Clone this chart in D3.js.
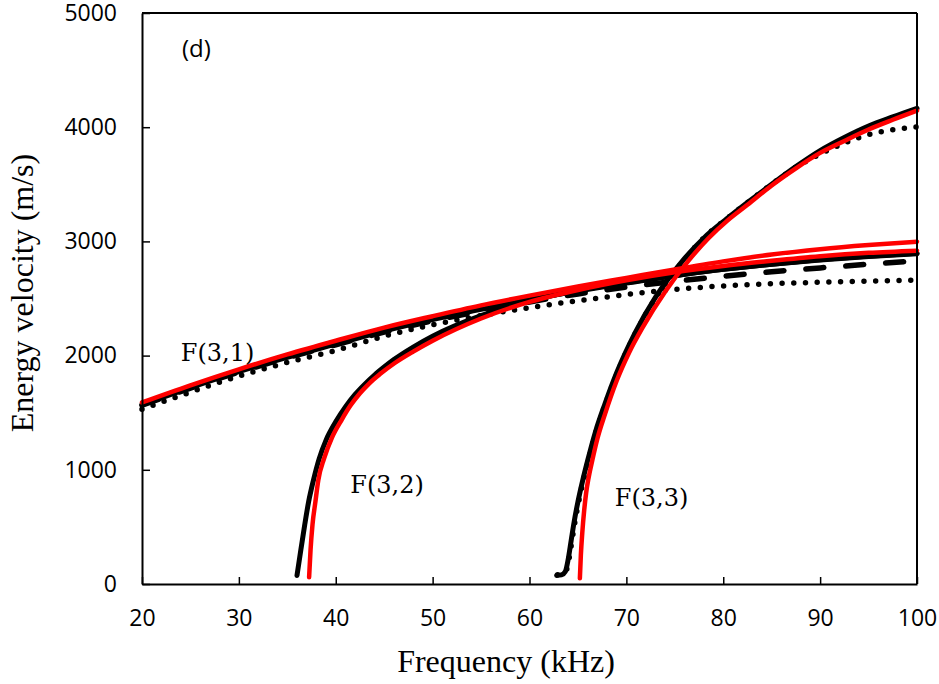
<!DOCTYPE html>
<html>
<head>
<meta charset="utf-8">
<script src="https://cdn.jsdelivr.net/npm/d3@7"></script>
<style>
  body { margin: 0; background: #fff; }
  svg { display: block; }
</style>
</head>
<body>
<svg id="chart" width="939" height="684"></svg>
<script>
// Energy velocity dispersion curves of the flexural modes F(3,1), F(3,2), F(3,3)
const xTicks = [20, 30, 40, 50, 60, 70, 80, 90, 100];
const yTicks = [0, 1000, 2000, 3000, 4000, 5000];

// F(3,1)
const f31Freq   = [20, 25, 30, 35, 40, 45, 50, 55, 60, 65, 70, 75, 80, 85, 90, 95, 100];
const f31Red    = [1590, 1740, 1880, 2010, 2130, 2245, 2345, 2440, 2525, 2605, 2680, 2755, 2825, 2885, 2932, 2968, 2997];
const f31Solid  = [1570, 1720, 1860, 1985, 2100, 2215, 2315, 2405, 2490, 2565, 2635, 2700, 2755, 2800, 2840, 2870, 2896];
const f31Dashed = [1565, 1715, 1855, 1980, 2095, 2205, 2305, 2390, 2470, 2540, 2600, 2650, 2695, 2735, 2768, 2800, 2830];
const f31Dotted = [1530, 1680, 1820, 1940, 2045, 2170, 2270, 2350, 2420, 2480, 2535, 2580, 2610, 2630, 2642, 2652, 2660];

// F(3,2)
const f32RedFreq = [37.25, 37.4, 37.6, 37.9, 38.2, 38.8, 39.6, 40.6, 41.5, 42.5, 43.5, 44.6, 46.1, 48, 50, 55, 60, 65, 70, 75, 80, 85, 90, 95, 100];
const f32Red     = [60, 300, 520, 720, 910, 1100, 1280, 1436, 1560, 1670, 1760, 1840, 1935, 2035, 2130, 2325, 2470, 2575, 2660, 2730, 2785, 2830, 2870, 2900, 2919];
const f32BlkFreq = [36.0, 36.4, 36.8, 37.2, 37.7, 38.3, 39.0, 40.0, 41.0, 42.0, 43.0, 44.0, 45.0, 46.0, 48.0, 50, 55, 60, 65, 70, 75, 80, 85, 90, 95, 100];
const f32Solid   = [75, 300, 520, 720, 910, 1100, 1260, 1420, 1550, 1660, 1750, 1830, 1900, 1965, 2075, 2170, 2350, 2480, 2570, 2640, 2700, 2755, 2800, 2838, 2868, 2892];

// F(3,3)
const f33RedFreq = [65.2, 65.3, 65.45, 65.65, 65.85, 66.1, 66.5, 67.0, 67.8, 69, 70.3, 71.7, 74, 76.4, 78.5, 80.4, 82.5, 85, 87.5, 90, 92.5, 95, 97.5, 100];
const f33Red     = [50, 250, 450, 650, 800, 930, 1090, 1270, 1490, 1780, 2030, 2250, 2560, 2830, 3030, 3180, 3320, 3490, 3640, 3775, 3880, 3980, 4065, 4145];
const f33BlkFreq = [62.8, 63.3, 63.7, 64.0, 64.3, 64.6, 65.0, 65.5, 66.0, 66.8, 67.8, 69, 70.9, 73, 75.8, 78, 80.4, 82.5, 85, 87.5, 90, 92.5, 95, 97.5, 100];
const f33Solid   = [75, 80, 110, 220, 380, 540, 720, 910, 1080, 1330, 1580, 1850, 2200, 2510, 2830, 3030, 3200, 3340, 3500, 3655, 3795, 3910, 4010, 4090, 4165];
const f33DotFreq = [62.9, 63.4, 63.8, 64.1, 64.4, 64.7, 65.1, 65.6, 66.1, 66.9, 67.9, 69.1, 71.0, 73.1, 75.9, 78, 80.4, 82.5, 85, 87.5, 90, 92.5, 95, 97.5, 100];
const f33Dotted  = [80, 90, 120, 230, 390, 550, 730, 920, 1090, 1340, 1590, 1855, 2205, 2515, 2830, 3030, 3200, 3340, 3500, 3650, 3765, 3860, 3935, 3978, 4003];

const svg = d3.select("#chart");
const plotLeft = 142, plotRight = 917, plotTop = 13, plotBottom = 584;

const x = d3.scaleLinear().domain([20, 100]).range([plotLeft, plotRight]);
const y = d3.scaleLinear().domain([0, 5000]).range([plotBottom, plotTop]);

const line = d3.line()
  .x(d => x(d[0]))
  .y(d => y(d[1]))
  .curve(d3.curveMonotoneX);

const zip = (xs, ys) => xs.map((v, i) => [v, ys[i]]);

const plot = svg.append("g");

function drawSeries(pts, color, width, dash) {
  const p = plot.append("path")
    .attr("d", line(pts))
    .attr("fill", "none")
    .attr("stroke", color)
    .attr("stroke-width", width)
    .attr("stroke-linejoin", "round")
    .attr("stroke-linecap", "round");
  if (dash === "dot") p.attr("stroke-dasharray", "0 11.7");
  else if (dash === "dash") p.attr("stroke-dasharray", "18 22");
  return p;
}

// black curves
drawSeries(zip(f31Freq, f31Solid), "#000", 5);
drawSeries(zip(f32BlkFreq, f32Solid), "#000", 5);
drawSeries(zip(f33BlkFreq, f33Solid), "#000", 5);
drawSeries(zip(f31Freq, f31Dashed), "#000", 5.5, "dash");
drawSeries(zip(f31Freq, f31Dotted), "#000", 5.5, "dot");
drawSeries(zip(f33DotFreq, f33Dotted), "#000", 5.5, "dot");
// red curves
drawSeries(zip(f31Freq, f31Red), "#ff0000", 4.5);
drawSeries(zip(f32RedFreq, f32Red), "#ff0000", 4.5);
drawSeries(zip(f33RedFreq, f33Red), "#ff0000", 4.5);

// axes
const xAxis = d3.axisBottom(x).tickValues(xTicks).tickFormat(d3.format("d"))
  .tickSizeInner(-7).tickSizeOuter(0).tickPadding(26);
const yAxis = d3.axisLeft(y).tickValues(yTicks).tickFormat(d3.format("d"))
  .tickSizeInner(-8).tickSizeOuter(0).tickPadding(25);

const gx = svg.append("g").attr("transform", `translate(0,${plotBottom})`).call(xAxis);
const gy = svg.append("g").attr("transform", `translate(${plotLeft},0)`).call(yAxis);

[gx, gy].forEach(g => {
  g.select(".domain").attr("stroke", "#000").attr("stroke-width", 2);
  g.selectAll(".tick line").attr("stroke", "#000").attr("stroke-width", 1.5);
  g.selectAll(".tick text")
    .attr("fill", "#000")
    .style("font-family", "'Open Sans', sans-serif")
    .style("font-size", "23px");
});

// frame top and right
svg.append("line").attr("x1", plotLeft).attr("x2", plotRight).attr("y1", plotTop).attr("y2", plotTop)
  .attr("stroke", "#000").attr("stroke-width", 2);
svg.append("line").attr("x1", plotRight).attr("x2", plotRight).attr("y1", plotTop).attr("y2", plotBottom)
  .attr("stroke", "#000").attr("stroke-width", 2);

// axis titles
svg.append("text")
  .attr("x", 506).attr("y", 672)
  .attr("text-anchor", "middle")
  .style("font-family", "'Liberation Serif', 'Times New Roman', serif")
  .style("font-size", "32px")
  .text("Frequency (kHz)");

svg.append("text")
  .attr("transform", "translate(33,293) rotate(-90)")
  .attr("text-anchor", "middle")
  .style("font-family", "'Liberation Serif', 'Times New Roman', serif")
  .style("font-size", "32px")
  .text("Energy velocity (m/s)");

// mode labels
const modeLabels = [
  { text: "F(3,1)", f: 24, v: 1950 },
  { text: "F(3,2)", f: 41.5, v: 800 },
  { text: "F(3,3)", f: 68.8, v: 680 }
];
svg.selectAll(".mode")
  .data(modeLabels)
  .enter().append("text")
  .attr("class", "mode")
  .attr("x", d => x(d.f))
  .attr("y", d => y(d.v))
  .style("font-family", "'DejaVu Serif', serif")
  .style("font-size", "24px")
  .text(d => d.text);

svg.append("text")
  .attr("x", 182).attr("y", 57)
  .style("font-family", "'Open Sans', sans-serif")
  .style("font-size", "24px")
  .text("(d)");
</script>
</body>
</html>
